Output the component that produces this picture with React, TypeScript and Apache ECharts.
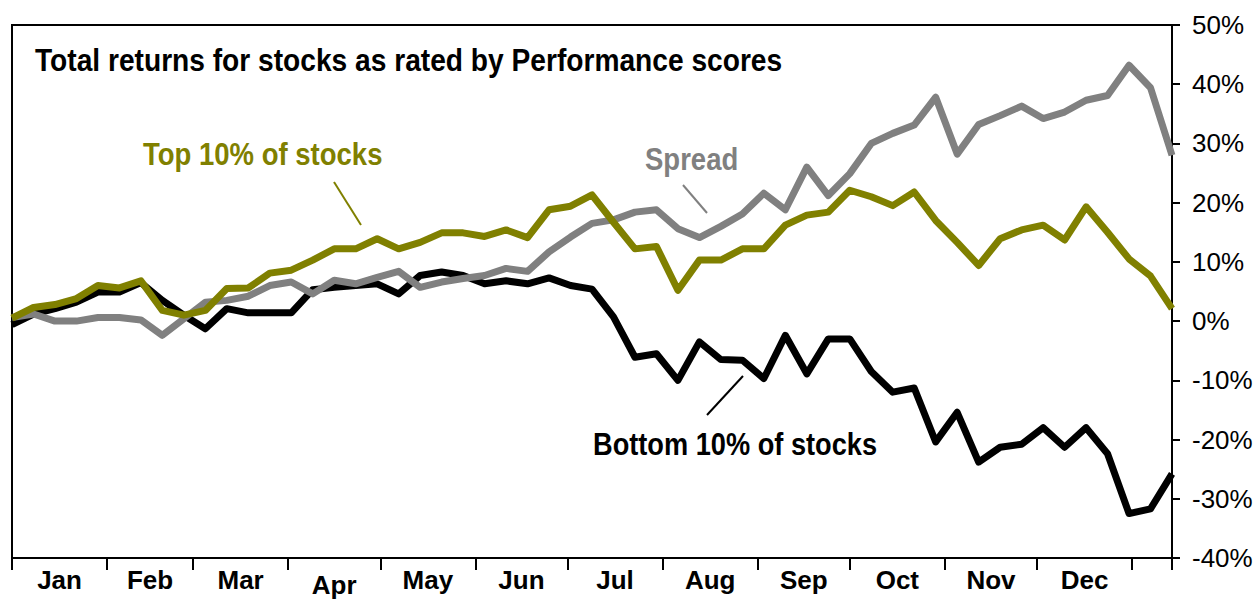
import React, { useEffect, useRef } from 'react';
import * as echarts from 'echarts';

// Weekly observations, in days from 1 January
const weekDays = [
  0, 7, 14, 21, 28, 35, 42, 49, 56, 63, 70, 77, 84, 91, 98, 105, 112, 119, 126, 133,
  140, 147, 154, 161, 168, 175, 182, 189, 196, 203, 210, 217, 224, 231, 238, 245, 252, 259, 266, 273,
  280, 287, 294, 301, 308, 315, 322, 329, 336, 343, 350, 357, 364, 371, 378,
];

// Total return (%) of the top 10% of stocks
const top10 = [
  0.5, 2.3, 2.8, 3.8, 6.0, 5.6, 6.8, 1.8, 1.0, 1.8, 5.5, 5.6, 8.1, 8.6, 10.3, 12.2, 12.2, 13.9, 12.2, 13.3,
  14.9, 14.9, 14.3, 15.4, 14.1, 18.8, 19.4, 21.3, 16.7, 12.2, 12.6, 5.2, 10.3, 10.3, 12.2, 12.2, 16.2, 17.9, 18.4, 22.1,
  21.0, 19.5, 21.8, 17.0, 13.3, 9.4, 13.9, 15.4, 16.2, 13.7, 19.3, 15.0, 10.5, 7.6, 2.1,
];

// Total return (%) of the bottom 10% of stocks
const bottom10 = [
  -0.6, 1.2, 2.1, 3.2, 4.9, 4.9, 6.5, 3.5, 1.0, -1.3, 2.1, 1.4, 1.4, 1.4, 5.3, 5.7, 6.0, 6.3, 4.6, 7.7,
  8.3, 7.7, 6.3, 6.8, 6.3, 7.3, 6.0, 5.4, 0.7, -6.1, -5.5, -10.0, -3.5, -6.5, -6.6, -9.7, -2.4, -8.9, -3.0, -3.0,
  -8.5, -12.0, -11.3, -20.4, -15.4, -23.8, -21.3, -20.8, -18.0, -21.3, -18.0, -22.4, -32.5, -31.7, -25.8,
];

// Spread (%) between the two
const spread = [
  0.6, 1.2, 0.0, 0.0, 0.6, 0.6, 0.2, -2.4, 0.4, 3.2, 3.5, 4.2, 6.0, 6.6, 4.6, 6.9, 6.3, 7.4, 8.4, 5.7,
  6.6, 7.2, 7.7, 8.9, 8.4, 11.7, 14.2, 16.5, 17.1, 18.4, 18.8, 15.6, 14.1, 16.0, 18.1, 21.6, 18.8, 26.0, 21.2, 24.9,
  30.0, 31.7, 33.1, 37.8, 28.2, 33.2, 34.7, 36.3, 34.2, 35.3, 37.3, 38.1, 43.2, 39.4, 28.0,
];

const monthNames = ['Jan', 'Feb', 'Mar', 'Apr', 'May', 'Jun', 'Jul', 'Aug', 'Sep', 'Oct', 'Nov', 'Dec'];
// Month boundaries (day of year), plus the end of the axis
const monthStartDays = [0, 31, 59, 90, 120, 151, 181, 212, 243, 273, 304, 334, 365, 378];

const yMin = -40;
const yMax = 50;
const yStep = 10;

const FONT = "'Liberation Sans', Arial, sans-serif";
const OLIVE = '#808000';
const GREY = '#808080';
const BLACK = '#000000';

export default function App() {
  const ref = useRef<HTMLDivElement>(null);

  useEffect(() => {
    const chart = echarts.init(ref.current as HTMLDivElement, null, { renderer: 'svg' });
    const monthMid = monthNames.map((_, i) => (monthStartDays[i] + monthStartDays[i + 1]) / 2);
    const pairs = (vals: number[]) => weekDays.map((d, i) => [d, vals[i]]);

    const annot = (text: string, x: number, y: number, color: string, sx: number) => ({
      type: 'text',
      x,
      y,
      scaleX: sx,
      scaleY: 1,
      z: 100,
      style: {
        text,
        fill: color,
        font: 'bold 32px ' + FONT,
        align: 'left',
        verticalAlign: 'top',
      },
    });

    chart.setOption({
      animation: false,
      backgroundColor: '#ffffff',
      grid: {
        left: 12,
        right: 88,
        top: 25,
        bottom: 45,
        show: true,
        borderColor: BLACK,
        borderWidth: 2,
        backgroundColor: 'transparent',
      },
      xAxis: {
        type: 'value',
        min: monthStartDays[0],
        max: monthStartDays[monthStartDays.length - 1],
        axisLine: { show: true, onZero: false, lineStyle: { color: BLACK, width: 2 } },
        axisTick: {
          show: true,
          customValues: monthStartDays,
          length: 12,
          lineStyle: { color: BLACK, width: 2 },
        },
        splitLine: { show: false },
        axisLabel: {
          show: true,
          customValues: monthMid,
          margin: 9,
          color: BLACK,
          fontFamily: FONT,
          fontWeight: 'bold',
          fontSize: 26,
          formatter: (v: number) => {
            const idx = monthMid.findIndex((m) => Math.abs(m - v) < 0.01);
            const name = idx >= 0 ? monthNames[idx] : '';
            return name === 'Apr' ? '{low|' + name + '}' : '{n|' + name + '}';
          },
          rich: {
            n: { fontFamily: FONT, fontWeight: 'bold', fontSize: 26, color: BLACK },
            low: { fontFamily: FONT, fontWeight: 'bold', fontSize: 26, color: BLACK, padding: [5, 0, 0, 0] },
          },
        },
      },
      yAxis: {
        type: 'value',
        position: 'right',
        min: yMin,
        max: yMax,
        interval: yStep,
        axisLine: { show: true, onZero: false, lineStyle: { color: BLACK, width: 2 } },
        axisTick: { show: true, inside: false, length: 8, lineStyle: { color: BLACK, width: 2 } },
        splitLine: { show: false },
        axisLabel: {
          margin: 20,
          color: BLACK,
          fontFamily: FONT,
          fontSize: 26,
          formatter: '{value}%',
        },
      },
      series: [
        {
          name: 'Bottom 10% of stocks',
          type: 'line',
          data: pairs(bottom10),
          showSymbol: false,
          lineStyle: { color: BLACK, width: 7, join: 'round' },
          itemStyle: { color: BLACK },
        },
        {
          name: 'Spread',
          type: 'line',
          data: pairs(spread),
          showSymbol: false,
          lineStyle: { color: GREY, width: 7, join: 'round' },
          itemStyle: { color: GREY },
        },
        {
          name: 'Top 10% of stocks',
          type: 'line',
          data: pairs(top10),
          showSymbol: false,
          lineStyle: { color: OLIVE, width: 7, join: 'round' },
          itemStyle: { color: OLIVE },
        },
      ],
      graphic: [
        annot('Total returns for stocks as rated by Performance scores', 35, 44, BLACK, 0.88),
        annot('Top 10% of stocks', 143, 138, OLIVE, 0.86),
        {
          type: 'line',
          shape: { x1: 334, y1: 182, x2: 361, y2: 225 },
          style: { stroke: OLIVE, lineWidth: 2 },
        },
        annot('Spread', 645, 143, GREY, 0.86),
        {
          type: 'line',
          shape: { x1: 683, y1: 185, x2: 707, y2: 213 },
          style: { stroke: GREY, lineWidth: 2 },
        },
        annot('Bottom 10% of stocks', 593, 428, BLACK, 0.85),
        {
          type: 'line',
          shape: { x1: 743, y1: 376, x2: 707, y2: 415 },
          style: { stroke: BLACK, lineWidth: 2 },
        },
      ],
    });

    return () => chart.dispose();
  }, []);

  return (
    <div
      ref={ref}
      style={{ position: 'absolute', left: 0, top: 0, width: 1260, height: 603 }}
    />
  );
}
